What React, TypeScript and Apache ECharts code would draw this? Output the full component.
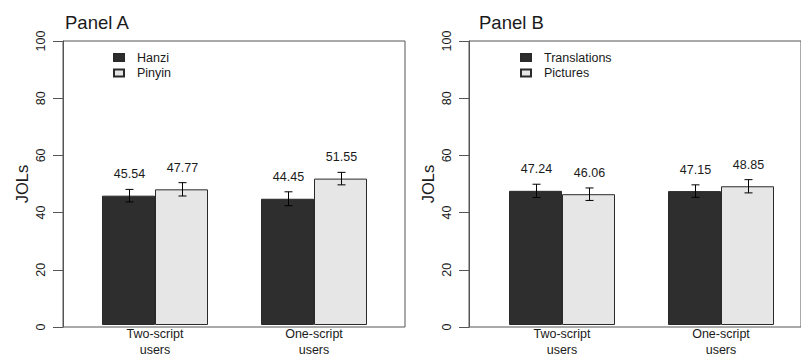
import React, { useEffect, useRef } from "react";
import * as echarts from "echarts";

const categories = ["Two-script\nusers", "One-script\nusers"];

const panelATitle = "Panel A";
const panelBTitle = "Panel B";

const hanziName = "Hanzi";
const hanziMeans = [45.54, 44.45];
const hanziErr = [2.2, 2.45];

const pinyinName = "Pinyin";
const pinyinMeans = [47.77, 51.55];
const pinyinErr = [2.35, 2.2];

const translationsName = "Translations";
const translationsMeans = [47.24, 47.15];
const translationsErr = [2.33, 2.2];

const picturesName = "Pictures";
const picturesMeans = [46.06, 48.85];
const picturesErr = [2.2, 2.33];

const yMin = 0;
const yMax = 100;
const yInterval = 20;
const yName = "JOLs";

const FONT = "'Liberation Sans', Arial, Helvetica, sans-serif";
const TEXT = "#1a1a1a";
const LINE = "#555555";
const DARK = "#2e2e2e";
const LIGHT = "#e6e6e6";
const BAR_W = 53;

export default function App() {
  const ref = useRef<HTMLDivElement>(null);

  useEffect(() => {
    if (!ref.current) return;
    const chart = echarts.init(ref.current, null, { renderer: "svg" });

    const frameY = (gridIndex: number) => ({
      type: "value",
      gridIndex,
      min: yMin,
      max: yMax,
      interval: yInterval,
      name: yName,
      nameLocation: "middle",
      nameGap: 33,
      nameTextStyle: { fontFamily: FONT, fontSize: 16.5, color: TEXT },
      axisLine: { show: true, lineStyle: { color: LINE, width: 1 } },
      axisTick: { show: true, inside: false, length: 10, lineStyle: { color: LINE, width: 1 } },
      axisLabel: { rotate: 90, margin: 16, fontFamily: FONT, fontSize: 12.5, color: TEXT },
      splitLine: { show: false },
    });
    const hiddenY = (gridIndex: number) => ({
      type: "value",
      gridIndex,
      min: yMin,
      max: yMax,
      show: false,
    });
    const frameX = (gridIndex: number) => ({
      type: "value",
      gridIndex,
      min: 0,
      max: 1,
      show: false,
    });
    const catX = (gridIndex: number) => ({
      type: "category",
      gridIndex,
      data: categories,
      boundaryGap: true,
      axisLine: { show: false },
      axisTick: { show: false },
      axisLabel: {
        margin: 1,
        fontFamily: FONT,
        fontSize: 12.5,
        lineHeight: 16,
        color: TEXT,
        interval: 0,
      },
      splitLine: { show: false },
    });

    const barSeries = (name: string, data: number[], color: string, axis: number) => ({
      name,
      type: "bar",
      xAxisIndex: axis,
      yAxisIndex: axis,
      data,
      z: 2,
      barWidth: BAR_W,
      barGap: "0%",
      itemStyle: { color, borderColor: "#2a2a2a", borderWidth: 1 },
      emphasis: { disabled: true },
    });

    const errSeries = (means: number[], errs: number[], side: number, axis: number) => ({
      type: "custom",
      xAxisIndex: axis,
      yAxisIndex: axis,
      z: 10,
      clip: false,
      silent: true,
      data: means.map((m, i) => [i, m, errs[i]]),
      renderItem: (params: any, api: any) => {
        const xi = api.value(0);
        const m = api.value(1);
        const e = api.value(2);
        const top = api.coord([xi, m + e]);
        const bot = api.coord([xi, m - e]);
        const x = Math.round(top[0] + side * (BAR_W / 2)) + 0.5;
        const cap = 4;
        const st = { stroke: "#000", lineWidth: 1 };
        return {
          type: "group",
          children: [
            { type: "line", z2: 10, shape: { x1: x, y1: top[1], x2: x, y2: bot[1] }, style: st },
            { type: "line", z2: 10, shape: { x1: x - cap, y1: top[1], x2: x + cap, y2: top[1] }, style: st },
            { type: "line", z2: 10, shape: { x1: x - cap, y1: bot[1], x2: x + cap, y2: bot[1] }, style: st },
            {
              type: "text",
              x,
              y: top[1] - 15,
              style: {
                text: m.toFixed(2),
                textAlign: "center",
                textVerticalAlign: "middle",
                fontFamily: FONT,
                fontSize: 12.5,
                fill: TEXT,
              },
            },
          ],
        };
      },
    });

    const legendCommon = {
      orient: "vertical",
      top: 50,
      icon: "path://M0,0L10,0L10,7L0,7Z M18,3.5L18,3.5",
      itemWidth: 18,
      itemHeight: 7,
      itemGap: 0.6,
      padding: 0,
      selectedMode: false,
      textStyle: {
        fontFamily: FONT,
        fontSize: 12.5,
        lineHeight: 15,
        color: TEXT,
      },
    };

    const option: any = {
      animation: false,
      backgroundColor: "#ffffff",
      title: [
        {
          text: panelATitle,
          left: 65,
          top: 12.5,
          padding: 0,
          textStyle: { fontFamily: FONT, fontSize: 18.5, fontWeight: "normal", color: TEXT, lineHeight: 19 },
        },
        {
          text: panelBTitle,
          left: 479,
          top: 12.5,
          padding: 0,
          textStyle: { fontFamily: FONT, fontSize: 18.5, fontWeight: "normal", color: TEXT, lineHeight: 19 },
        },
      ],
      legend: [
        { ...legendCommon, left: 113, data: [hanziName, pinyinName] },
        { ...legendCommon, left: 520, data: [translationsName, picturesName] },
      ],
      grid: [
        { left: 63, top: 41, width: 342, height: 286, show: true, borderColor: LINE, borderWidth: 1, backgroundColor: "transparent" },
        { left: 75.5, top: 41, width: 318, height: 286 },
        { left: 469, top: 41, width: 342, height: 286, show: true, borderColor: LINE, borderWidth: 1, backgroundColor: "transparent" },
        { left: 482.5, top: 41, width: 318, height: 286 },
      ],
      xAxis: [frameX(0), catX(1), frameX(2), catX(3)],
      yAxis: [frameY(0), hiddenY(1), frameY(2), hiddenY(3)],
      series: [
        barSeries(hanziName, hanziMeans, DARK, 1),
        barSeries(pinyinName, pinyinMeans, LIGHT, 1),
        barSeries(translationsName, translationsMeans, DARK, 3),
        barSeries(picturesName, picturesMeans, LIGHT, 3),
        errSeries(hanziMeans, hanziErr, -1, 1),
        errSeries(pinyinMeans, pinyinErr, 1, 1),
        errSeries(translationsMeans, translationsErr, -1, 3),
        errSeries(picturesMeans, picturesErr, 1, 3),
      ],
    };

    chart.setOption(option);
    return () => chart.dispose();
  }, []);

  return (
    <div
      ref={ref}
      style={{ position: "fixed", left: 0, top: 0, width: 801, height: 358, background: "#fff" }}
    />
  );
}
